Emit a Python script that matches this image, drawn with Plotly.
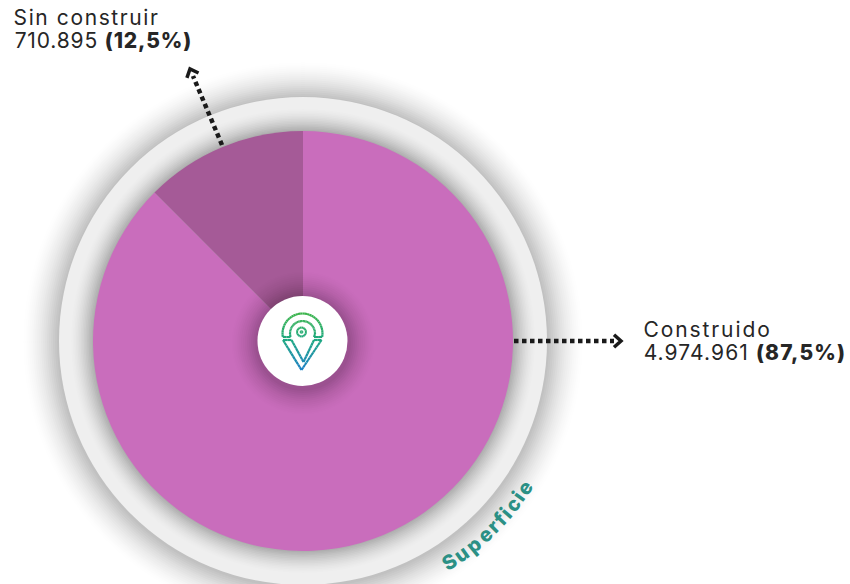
import math
import plotly.graph_objects as go

W, H = 850, 584
labels = ["Construido", "Sin construir"]
values = [4974961, 710895]
display_values = ["4.974.961", "710.895"]
display_shares = ["(87,5%)", "(12,5%)"]
slice_colors = ["#c96dbc", "#a55a97"]
curved_title = "Superficie"
title_advances = [11.5, 12.5, 12.5, 12, 8.5, 7.5, 6, 11, 6, 11]

CX, CY, R_PIE, R_RING, R_HOLE = 303, 341, 210, 244, 45
FONT = "Inter"
INK = "#262626"

px = lambda x: x / W
py = lambda y: 1 - y / H
shapes = []

def circle(cx, cy, r, fill, opacity=1, layer="below"):
    shapes.append(dict(type="circle", xref="paper", yref="paper", layer=layer,
                       x0=px(cx - r), x1=px(cx + r), y0=py(cy + r), y1=py(cy - r),
                       fillcolor=fill, opacity=opacity, line=dict(width=0)))

def seg(x0, y0, x1, y1, color=INK, width=2, dash=None):
    line = dict(color=color, width=width)
    if dash:
        line["dash"] = dash
    shapes.append(dict(type="line", xref="paper", yref="paper", layer="above",
                       x0=px(x0), x1=px(x1), y0=py(y0), y1=py(y1), line=line))

# outer soft shadow
for i in range(18):
    r = 280 - i * 2
    circle(CX, CY + 1, r, "#000000", 0.004 + i * 0.0012)
circle(CX, CY, R_RING, "#efefef")
# shadow cast by the pie on the ring
for i in range(14):
    r = 232 - i * 1.6
    circle(CX, CY, r, "#000000", 0.006 + i * 0.0022)

# shadow of the central disc on the pie
for i in range(13):
    r = 72 - i * 2
    circle(CX, CY + 2, r, "#000000", 0.004 + i * 0.0022, layer="above")
circle(CX - 0.5, CY, R_HOLE, "#ffffff", layer="above")

# logo
def lerp(a, b, t):
    return a + (b - a) * t

def logo_color(y):
    stops = [(313, (60, 181, 74)), (340, (30, 168, 130)), (371, (27, 125, 200))]
    for (y0, c0), (y1, c1) in zip(stops, stops[1:]):
        if y <= y1:
            t = max(0, (y - y0) / (y1 - y0))
            return "rgb(%d,%d,%d)" % tuple(lerp(a, b, t) for a, b in zip(c0, c1))
    return "rgb(27,125,200)"

def poly(points, width=2.2):
    for (x0, y0), (x1, y1) in zip(points, points[1:]):
        n = max(1, int(math.hypot(x1 - x0, y1 - y0) / 3))
        for k in range(n):
            a, b = k / n, (k + 1) / n
            xa, ya, xb, yb = lerp(x0, x1, a), lerp(y0, y1, a), lerp(x0, x1, b), lerp(y0, y1, b)
            seg(xa, ya, xb, yb, logo_color((ya + yb) / 2), width)

def arc(cx, cy, r, a0, a1, n=30):
    return [(cx + r * math.cos(math.radians(lerp(a0, a1, i / n))),
             cy + r * math.sin(math.radians(lerp(a0, a1, i / n)))) for i in range(n + 1)]

LX, LY = 302.5, 333.5
outer = arc(LX, LY, 20, 170, 370)
inner = arc(LX, LY, 12.5, 10, -190)
poly(outer + [(314, 337)] + inner[1:-1] + [(290.5, 337), outer[0]])
poly(arc(LX - 1, LY - 1.5, 4.5, 0, 360, 16), 2)
poly(arc(LX - 1, LY - 1.5, 1.2, 0, 360, 8), 1.5)
poly([(283, 340), (291.5, 340), (303.5, 362), (314, 340), (321.5, 340), (301.5, 370), (283, 340)])

# dotted leader arrows
def chevron(x, y, angle):
    c, s = math.cos(angle), math.sin(angle)
    size = 7
    pts = [(x - size * c - size * 0.9 * s, y - size * s + size * 0.9 * c), (x, y),
           (x - size * c + size * 0.9 * s, y - size * s - size * 0.9 * c)]
    d = "M{} {} L{} {} L{} {}".format(*[v for p in pts for v in (px(p[0]), py(p[1]))])
    shapes.append(dict(type="path", xref="paper", yref="paper", layer="above", path=d,
                       line=dict(color="#1a1a1a", width=3.5)))

DOTS = "4.5px,3.5px"
seg(514, 341, 614, 341, "#1a1a1a", 4.5, DOTS)
chevron(621, 341, 0)
seg(222, 145, 193, 76, "#1a1a1a", 4.5, DOTS)
chevron(190, 69, math.atan2(69 - 145, 190 - 222))

# annotations
def text(x, y, s, size, color=INK, angle=0, anchor="left", weight=None):
    font = dict(family=FONT, size=size, color=color)
    if weight:
        font["weight"] = weight
    return dict(xref="paper", yref="paper", x=px(x), y=py(y), text=s, showarrow=False,
                xanchor=anchor, yanchor="middle", textangle=angle, font=font)

heavy = '<span style="font-weight:800">{}</span>'
annotations = [
    text(22, 17.5, labels[1], 21),
    text(19, 40.5, f"{display_values[1]} " + heavy.format(display_shares[1]), 21),
    text(651, 329, labels[0], 21),
    text(651, 352, f"{display_values[0]} " + heavy.format(display_shares[0]), 21),
]

# curved title, placed letter by letter along the ring
start, end = 58.5, 32.5
total = sum(title_advances)
walked = 0
for ch, adv in zip(curved_title, title_advances):
    theta = start + (end - start) * (walked + adv / 2) / total
    walked += adv
    rad = math.radians(theta)
    annotations.append(
        text(CX + 2 + 265 * math.cos(rad), CY - 1 + 265 * math.sin(rad), ch, 20,
             "#2b9085", theta - 90, "center", 800))

fig = go.Figure(go.Pie(
    labels=labels, values=values, sort=False, direction="clockwise", rotation=0,
    marker=dict(colors=slice_colors, line=dict(width=0)), textinfo="none", hoverinfo="label+value",
    domain=dict(x=[px(CX - R_PIE), px(CX + R_PIE)], y=[py(CY + R_PIE), py(CY - R_PIE)]),
))
fig.update_layout(width=W, height=H, margin=dict(l=0, r=0, t=0, b=0), showlegend=False,
                  paper_bgcolor="#ffffff", shapes=shapes, annotations=annotations)
POST = """
document.body.style.margin='0';
var sp=[1.6,0.85,1.9,1.1];
document.querySelectorAll('.annotation-text').forEach(function(t,i){
  if(i<4){t.style.letterSpacing=sp[i]+'px';}
});
"""
fig.write_html("out.html", post_script=POST, config=dict(displayModeBar=False))
